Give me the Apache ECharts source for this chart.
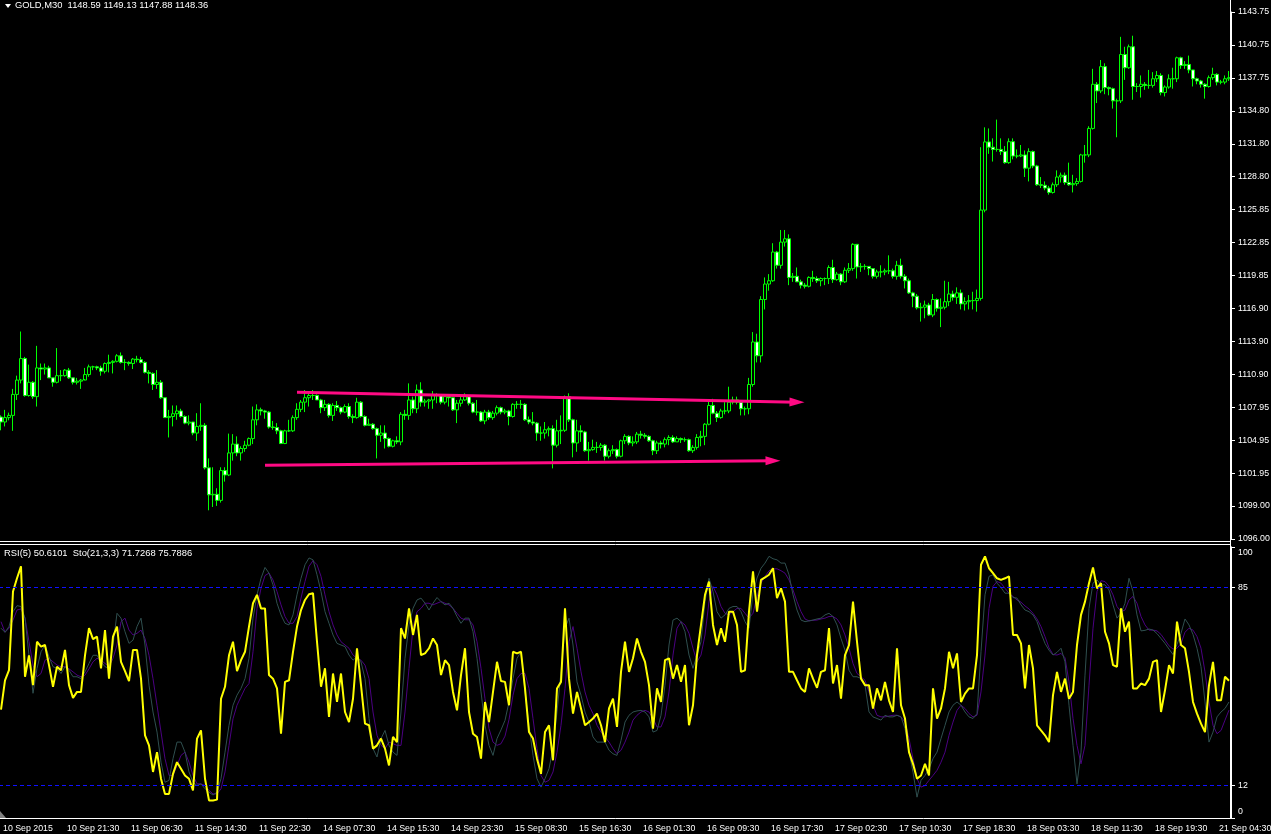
<!DOCTYPE html>
<html><head><meta charset="utf-8">
<script src="https://cdn.jsdelivr.net/npm/echarts@6/dist/echarts.min.js"></script>
<style>html,body{margin:0;padding:0;background:#000;}#c{width:1271px;height:834px;}</style>
</head><body><div id="c"></div>
<script>
const timeLabels = ['10 Sep 2015','10 Sep 21:30','11 Sep 06:30','11 Sep 14:30','11 Sep 22:30','14 Sep 07:30','14 Sep 15:30','14 Sep 23:30','15 Sep 08:30','15 Sep 16:30','16 Sep 01:30','16 Sep 09:30','16 Sep 17:30','17 Sep 02:30','17 Sep 10:30','17 Sep 18:30','18 Sep 03:30','18 Sep 11:30','18 Sep 19:30','21 Sep 04:30'];
const priceLabels = ['1096.00','1099.00','1101.95','1104.95','1107.95','1110.90','1113.90','1116.90','1119.85','1122.85','1125.85','1128.80','1131.80','1134.80','1137.75','1140.75','1143.75'];
const oscLevels = [0, 12, 85, 100];
const firstOpen = 1107.05;
const closes = [
1106.6,1107.0,1107.2,1109.1,1110.4,1112.35,1109.0,1110.2,1108.9,1111.5,
1111.4,1111.5,1110.6,1110.2,1110.8,1110.8,1111.3,1110.6,1110.2,1110.3,
1110.4,1110.9,1111.6,1111.6,1111.5,1111.2,1111.9,1112.0,1112.1,1112.6,
1112.0,1112.0,1111.9,1112.3,1112.25,1112.0,1111.1,1111.0,1110.0,1110.2,
1108.8,1107.0,1107.1,1107.35,1107.6,1107.1,1106.5,1106.6,1105.6,1106.2,
1106.3,1102.45,1100.0,1100.05,1099.5,1102.2,1101.8,1103.8,1104.6,1103.8,
1104.2,1104.5,1105.1,1106.8,1107.7,1107.6,1107.5,1106.15,1106.1,1105.8,
1104.65,1105.8,1105.8,1107.0,1107.75,1108.4,1108.8,1109.0,1109.0,1108.6,
1107.9,1108.2,1107.2,1108.1,1107.9,1107.5,1108.0,1107.1,1107.0,1108.4,
1107.1,1106.3,1106.4,1106.0,1105.4,1105.6,1105.1,1104.4,1104.9,1104.8,
1107.3,1107.2,1108.6,1107.8,1109.5,1108.4,1108.5,1108.6,1109.0,1109.0,
1108.4,1108.9,1108.8,1107.7,1108.3,1108.6,1108.9,1108.3,1107.5,1107.5,
1106.7,1107.5,1107.0,1107.4,1107.9,1107.5,1107.6,1107.1,1108.2,1108.2,
1108.2,1106.8,1106.6,1106.5,1105.6,1105.6,1105.9,1106.0,1104.5,1105.8,
1105.85,1108.9,1106.8,1104.7,1105.8,1105.7,1104.0,1104.1,1104.3,1104.3,
1104.5,1103.5,1104.0,1104.1,1103.5,1104.9,1105.3,1104.7,1104.8,1105.5,
1105.4,1105.3,1104.9,1104.0,1104.7,1104.6,1105.0,1105.2,1104.8,1105.1,
1105.0,1105.0,1104.0,1104.3,1105.2,1105.3,1106.4,1108.1,1107.4,1107.0,
1107.6,1107.6,1108.4,1108.6,1108.4,1107.8,1107.8,1110.0,1113.85,1112.6,
1117.7,1119.1,1119.4,1122.0,1120.8,1122.9,1123.2,1119.7,1119.8,1119.3,
1119.0,1118.9,1119.7,1119.6,1119.4,1119.6,1119.6,1120.6,1119.5,1120.0,
1119.3,1120.35,1120.5,1122.7,1120.65,1120.7,1120.7,1120.5,1119.8,1120.2,
1120.2,1120.3,1120.3,1119.8,1120.8,1119.8,1119.4,1118.3,1118.0,1116.95,
1117.0,1117.2,1116.3,1117.7,1116.9,1117.0,1117.5,1118.2,1117.9,1118.3,
1117.3,1117.5,1117.6,1117.6,1117.8,1125.8,1131.98,1131.5,1131.3,1131.3,
1131.1,1130.1,1132.0,1130.7,1130.7,1130.8,1129.6,1131.1,1129.8,1128.1,
1128.05,1127.8,1127.4,1128.1,1128.8,1128.96,1128.3,1128.1,1128.2,1128.4,
1130.8,1130.8,1133.2,1137.2,1136.6,1138.8,1136.9,1136.8,1135.7,1135.7,
1139.9,1138.7,1140.6,1137.0,1137.0,1137.2,1137.1,1137.1,1137.7,1138.0,
1136.45,1136.95,1137.7,1137.7,1139.6,1138.9,1139.0,1138.5,1137.7,1137.5,
1137.2,1137.0,1137.8,1138.1,1137.4,1137.4,1137.7,1137.8];
const lows = [
1105.85,1106.2,1106.75,1105.8,1108.6,1110.1,1108.9,1108.9,1108.7,1108.0,
1110.4,1110.9,1110.6,1109.8,1110.1,1110.3,1110.7,1110.5,1110.0,1110.0,
1109.6,1110.5,1110.7,1111.3,1111.3,1110.8,1111.0,1111.1,1111.0,1112.0,
1111.9,1111.3,1111.7,1111.4,1112.0,1111.9,1111.0,1110.1,1109.5,1109.6,
1108.7,1107.0,1105.2,1106.2,1106.8,1107.0,1106.4,1106.3,1105.4,1104.9,
1105.8,1102.3,1098.6,1098.9,1099.0,1099.3,1101.2,1101.7,1103.1,1103.5,
1103.1,1103.9,1104.4,1104.6,1106.3,1107.2,1106.9,1106.0,1105.9,1105.5,
1104.6,1104.6,1105.7,1105.7,1106.8,1107.5,1107.5,1108.0,1108.6,1108.6,
1107.4,1107.6,1107.0,1106.7,1107.6,1107.3,1107.4,1106.9,1106.5,1106.9,
1107.0,1106.2,1106.3,1105.9,1103.3,1104.8,1104.2,1104.3,1104.3,1104.6,
1104.5,1106.8,1106.8,1107.4,1107.4,1108.0,1108.0,1107.8,1107.8,1108.3,
1108.2,1108.2,1108.0,1107.6,1106.5,1108.0,1108.5,1108.1,1107.4,1107.2,
1106.6,1106.4,1106.8,1106.8,1107.2,1107.3,1107.3,1106.3,1107.0,1107.8,
1107.8,1106.7,1106.4,1106.3,1104.9,1104.9,1105.1,1105.3,1102.4,1104.3,
1104.6,1105.7,1106.6,1103.4,1103.9,1104.8,1103.9,1103.1,1104.0,1103.8,
1104.0,1103.1,1103.3,1103.7,1103.3,1103.4,1104.6,1104.5,1104.4,1104.6,
1105.1,1105.1,1104.8,1103.6,1103.7,1104.2,1104.3,1104.5,1104.7,1104.8,
1104.7,1104.8,1103.9,1103.8,1104.1,1104.4,1104.5,1106.3,1107.3,1106.6,
1106.9,1107.3,1107.4,1108.2,1108.2,1107.2,1107.2,1107.3,1109.8,1112.0,
1112.0,1116.8,1118.5,1119.3,1120.5,1120.5,1122.5,1119.0,1119.3,1119.3,
1118.7,1118.7,1118.8,1119.3,1119.2,1118.9,1119.0,1119.1,1119.2,1119.4,
1119.0,1119.2,1120.1,1120.3,1119.6,1120.2,1120.4,1119.9,1119.6,1119.6,
1119.7,1119.9,1120.0,1119.6,1119.5,1119.6,1118.7,1118.2,1117.0,1116.8,
1115.7,1116.0,1116.2,1116.1,1116.6,1115.2,1116.8,1117.1,1117.6,1117.3,
1116.8,1116.7,1116.8,1116.8,1116.6,1117.6,1125.6,1130.9,1130.2,1131.1,
1130.8,1130.0,1130.0,1130.4,1130.5,1130.6,1128.8,1128.4,1129.6,1128.0,
1127.8,1127.6,1127.2,1127.3,1127.9,1128.3,1128.1,1128.0,1127.4,1128.0,
1128.3,1130.1,1130.6,1133.1,1135.5,1136.4,1136.3,1136.2,1135.0,1132.4,
1135.5,1137.6,1138.6,1135.8,1136.5,1136.0,1136.7,1136.8,1136.9,1137.4,
1136.2,1136.1,1136.8,1136.8,1137.4,1138.6,1138.6,1138.2,1137.0,1137.2,
1136.9,1135.9,1136.9,1137.6,1137.1,1137.2,1137.2,1137.5];
const highs = [
1107.2,1107.7,1107.45,1109.6,1110.8,1114.8,1112.5,1111.8,1110.3,1113.5,
1111.9,1111.9,1111.7,1110.6,1113.3,1111.3,1111.4,1111.5,1110.6,1110.6,
1110.5,1111.5,1111.8,1111.7,1111.7,1111.7,1112.0,1112.7,1112.2,1112.75,
1112.9,1112.3,1112.1,1112.4,1112.6,1112.5,1112.1,1111.3,1111.1,1111.3,
1110.4,1108.8,1107.7,1108.1,1108.1,1107.8,1107.2,1107.2,1106.6,1107.4,
1108.3,1106.5,1103.3,1102.5,1100.6,1102.5,1102.5,1105.55,1105.5,1105.3,
1104.4,1104.9,1105.2,1108.0,1108.2,1107.9,1107.7,1107.6,1106.7,1106.5,
1105.9,1105.9,1106.8,1107.2,1108.3,1108.6,1109.5,1109.3,1109.5,1109.1,
1108.7,1108.6,1108.3,1108.3,1108.5,1108.0,1108.2,1108.3,1107.3,1108.8,
1108.5,1107.2,1106.9,1106.5,1106.1,1106.3,1106.3,1105.2,1105.0,1105.3,
1107.5,1107.7,1110.1,1108.9,1110.0,1110.2,1108.7,1108.7,1109.4,1109.2,
1109.1,1109.0,1109.0,1108.9,1108.6,1108.9,1109.2,1109.0,1108.4,1108.6,
1107.6,1107.7,1107.7,1107.6,1108.1,1108.0,1107.8,1107.7,1108.3,1108.5,
1108.6,1108.3,1107.1,1107.5,1106.6,1106.2,1106.6,1106.2,1106.3,1106.8,
1107.2,1109.0,1109.2,1106.9,1106.8,1106.3,1105.8,1104.8,1105.0,1104.8,
1104.7,1104.6,1104.2,1104.5,1104.2,1105.0,1105.5,1105.4,1105.3,1105.7,
1105.8,1105.6,1105.4,1105.0,1104.9,1104.9,1105.2,1105.4,1105.4,1105.3,
1105.2,1105.2,1105.1,1104.5,1105.5,1105.8,1106.5,1108.6,1108.7,1107.6,
1107.8,1108.4,1109.8,1108.9,1108.9,1108.5,1108.0,1110.6,1114.75,1114.6,
1118.0,1119.7,1120.0,1122.8,1122.1,1124.0,1124.0,1123.6,1120.1,1120.6,
1119.5,1119.2,1119.8,1120.3,1119.8,1119.7,1119.7,1120.8,1121.3,1120.2,
1120.1,1120.6,1121.0,1122.8,1122.6,1121.0,1120.9,1120.7,1120.5,1120.4,
1120.8,1120.5,1121.7,1120.5,1121.2,1121.4,1120.0,1119.6,1118.4,1118.2,
1117.4,1117.6,1117.4,1118.2,1117.8,1117.8,1119.4,1119.3,1118.5,1118.8,
1118.6,1117.9,1118.1,1118.4,1118.6,1131.5,1133.3,1133.2,1132.3,1134.0,
1132.3,1131.6,1132.3,1132.3,1131.3,1131.7,1131.2,1131.4,1131.2,1129.9,
1128.8,1128.4,1128.0,1128.3,1129.4,1129.2,1129.2,1130.1,1129.0,1128.7,
1130.9,1131.7,1133.4,1138.6,1137.4,1139.4,1139.1,1137.0,1136.9,1135.9,
1141.5,1140.6,1140.8,1141.6,1137.3,1138.0,1137.4,1138.5,1138.3,1138.4,
1138.2,1137.1,1138.1,1138.7,1139.7,1139.7,1139.3,1139.8,1138.5,1137.8,
1137.6,1137.3,1138.0,1138.7,1138.2,1137.6,1138.0,1138.4];
const rsi = [
40,50.8,54.5,83.5,88.4,92.8,52.1,60,49,65,
63.2,63.8,56.4,48.4,55.8,54.5,62,49,44.3,46.5,
46.5,60,70,66,66.9,55.2,69.3,51.4,66.9,70.6,
57.6,54.2,50.5,62,62,51.4,30.5,26.8,17,24.3,
14.5,8.9,8.9,16.3,20.6,18.2,15.7,14.5,10.2,29.3,
32.3,14.5,6.5,6.5,6.8,44,48.4,60,65,54.2,
58.2,61.3,70.6,79.2,82.3,77.3,77.3,52.7,51.4,47.8,
31.1,50.2,50.8,61.3,70.6,76.7,80.4,82.5,82.9,65,
48.4,55.2,37.3,53.3,42.8,53.3,39.1,35.4,44,62.6,
49,34.8,34.2,25.6,26.8,29.3,25.6,19.4,29.9,28,
70,66.2,77.3,67.5,74.9,60.1,60.7,62.6,66.2,63.8,
52.7,58.2,56.4,46.5,39.7,52.7,62.6,39.1,31.1,29.9,
21.9,42.8,35.4,46.5,57.6,50.5,50.2,41.6,61.3,60.7,
61.3,47.8,31.7,29.3,21.9,16.3,31.7,34.2,21.3,47.8,
50.2,77.3,51.4,38.5,46.5,40.4,34.2,35.4,36.7,38.5,
34.2,28,40.4,44,33.6,53.9,65,53.9,58.9,66.2,
61.3,57.6,49,33,47.8,42.8,58.2,58.9,51.4,56.4,
50.2,56.4,34.2,41.6,60.1,71.2,82.3,87.2,71.2,63.8,
70,65,76.1,76.1,71.2,53.9,54.5,76.1,91,76.1,
87.8,88.7,89.7,92.1,81.1,84.7,79.8,53.9,53.9,50.8,
47.8,46.5,55.2,51.4,48,53.9,54.5,70,49.6,56.4,
44,60.1,63.8,79.8,65,51.4,49,49,40.4,47.8,
43.4,50.2,43.4,39.1,62.6,41.6,36.7,24.3,20,14.5,
15.7,20,15.7,47.8,36.7,40.4,47.8,61.3,55.2,60.7,
42.8,45.9,47.8,47.8,60.1,93.4,96.5,92.1,90.3,88.4,
87.8,88.4,89.1,67.5,67.5,64.4,47.8,63.8,55.2,34.2,
32.3,30.5,28,45.3,53.9,46.5,51.4,44,46.5,63.8,
74.9,79.8,86.6,92.4,84.7,86.6,68.7,64.4,56.4,55.8,
77.3,68.7,72.4,47.8,47.8,49.6,49,51.4,57.6,58.2,
39.1,47.1,56.4,53.3,72.4,63.8,62.6,53.9,42.8,38.5,
34.8,31.7,49,57.6,43.4,43.4,52.1,50.6];
const stoMain = [
70,68.5,70.6,76.1,78.3,78,73.7,60,46,55.2,
61.3,63.8,59.5,55.8,55.2,53.3,55.8,54.5,52.1,52.1,
51.4,53.9,57,60,60,57.6,55.8,55.2,63.8,75.5,
73.7,68.7,64.4,65.6,70.6,73.7,63.8,49,39.1,31.7,
20.6,13.2,13.9,21.9,28,28,24.3,17,13.2,12,
12.6,10.8,9.5,8.5,9.5,14.5,24.3,34.2,41.6,45.3,
47.8,51.4,58.9,73.7,82.3,88.4,92.4,90.3,86,79.2,
74.9,71.8,71.2,74.9,82.3,88.4,93.4,95.9,95.2,89.7,
83.5,76.1,71.8,67.5,64.4,63.8,63.2,60.1,58.2,59.5,
57.6,51.4,36.7,25.6,22.5,29.3,32.3,26.8,24.3,23.1,
39.1,58.9,71.2,77.3,80.4,81.1,79.2,76.7,79.2,81.3,
79.8,78.6,79.2,77.3,74.3,71.8,73.7,73.7,68.7,58.9,
46.5,34.2,26.8,23.1,29.3,32.5,36,42.8,51.4,58.9,
61.3,46.5,34.2,23.1,14.5,11.4,14.5,18.2,25.6,39.1,
53.9,70,73.7,63.8,50.2,45.3,39.1,35.4,29.9,28,
28,28,25,23.7,23.1,28.6,35.4,37.9,39.1,39.5,
39.7,39.1,37.3,31.7,32.3,37.9,49,63.8,73,73.7,
72.4,68.7,60.1,55.2,60.1,65,79.8,88.4,83.5,76.1,
73.7,74.9,77.3,78,78,76.1,72.4,70,83,88.5,
92.1,94,96.5,95.6,95.2,94,94,89.7,82.3,76.7,
73,72.4,72.7,73,73.4,73.7,74.9,75.5,74.3,71.2,
66.2,61.9,54.5,52.1,52.1,51.4,49,39.1,37.3,36.7,
36.1,37.9,37.3,37.3,37.9,37.3,33,24.3,16.9,7.7,
13.9,15.7,18.2,21.9,24.3,29.3,34.2,39.1,41.6,42.8,
41.6,39.1,37.3,36.7,38.5,61.3,82.3,89.1,89.7,86.6,
85,82.9,82.9,81.3,81.1,78.6,76.7,76.1,74.9,72.4,
68.1,64.4,61.9,60.1,61.1,62.6,57.6,41.6,26.8,12.6,
24.3,52.7,77.3,86.6,87.8,86,86,84.1,78.6,73.7,
75.5,79.2,88.4,83.5,74.9,69,69.2,69.7,69.3,68,
66.2,64.4,62.3,60.3,64,68.1,73.4,71.2,67.7,62.6,
55.8,42.8,28,31.7,37.3,39.1,40.4,42.8];
const stoSignal = [
72.4,68.5,70,73,76.7,77.1,73.7,65,56.4,52.1,
53.3,58.2,58.9,57.6,56.4,55.8,55.8,55,53.9,52.7,
52.1,52.7,55,57.6,58.9,58.2,57,55.8,58.9,63.8,
72.4,73.7,69.3,67.5,68.1,69.3,66.2,60,51.4,41.6,
31.7,21.9,15.7,15.7,19.4,23.1,24.3,20.6,15.7,12.6,
12.6,12,10.2,8.9,8.9,10.8,17,26.8,36.6,41.6,
44.7,47.8,49.6,61.3,77.3,84.7,89.4,90.3,87.8,83.5,
78.6,74.3,71.8,71.8,74.3,81.1,87.2,92.8,94.9,93.4,
89.1,82.3,76.1,71.2,67.5,65,63.8,62.6,60.1,58.9,
58.2,56.4,51.4,39.1,30.5,26.8,25.6,28,27.4,26.8,
26.8,39.1,55.2,70,76.1,77.3,79.2,79.2,78.6,79.2,
79.8,79.2,78.6,77.3,75.5,73.7,73.1,73.1,71.2,65,
55.2,44,33,28,26.8,27.4,30.2,36.3,45.3,51.4,
53.3,53.3,47.8,36.7,25.6,15.7,13.2,13.9,17,24.3,
34.2,47.8,65,70.6,62.6,53.9,46.5,41.6,38.5,34.2,
31.7,29.9,28,25.6,23.7,25,28,31.7,36.1,37.9,
39.1,39.7,39.1,36.7,33.6,33.6,37.3,46.5,60.1,70,
72.4,71.2,68.1,62.6,57.6,60.1,67.5,79.8,85.4,82.3,
78,75.5,74.9,76.1,77.3,77.3,75.5,73.7,75.5,81.6,
86.6,89.1,91.2,91.9,91.9,91.2,90.3,87.8,84.1,79.8,
76.1,73.4,72.7,72.9,73,73.4,73.7,74.3,74.3,73.4,
71.2,67.5,62.6,57,53.3,52.1,50.8,46.5,41.6,37.9,
37.3,37.3,37.6,37.9,37.9,37.3,35.4,29.3,21.9,14.5,
11.4,12,13.9,15.7,17.6,20.6,24.3,30.5,35.4,39.7,
41.6,40.4,38.5,37.3,37.9,46.5,60.1,77.3,85.4,87.2,
86.6,84.7,82.9,81.7,80.4,79.6,78.2,77.1,75.5,73.4,
70.6,66.9,62.8,60.3,60.1,60.7,59.1,50.2,36.7,26.8,
20,26.8,49,70,83.5,87.5,87.2,85.4,82.3,78,
76.1,76.7,80.4,81.7,79.2,74.3,71.2,69.3,69.3,69,
67.7,65.6,63.5,62.3,62.6,64.4,68.5,70,69.3,66.9,
62.6,53.9,42.8,34.2,31.1,32.3,36.1,39.8];
// hand-drawn trend lines: [bar index, price]
const upperTrend = [[74, 1109.29], [199, 1108.40]];
const lowerTrend = [[66, 1102.68], [193, 1103.09]];
const titleText = 'GOLD,M30  1148.59 1149.13 1147.88 1148.36';
const oscText = 'RSI(5) 50.6101  Sto(21,3,3) 71.7268 75.7886';

const cats = closes.map((_, i) => String(i));
const ohlc = closes.map((c, i) => [i === 0 ? firstOpen : closes[i - 1], c, lows[i], highs[i]]);
const pMin = 1096, pMax = 1143.75, pInt = (pMax - pMin) / 16;
const FONT = 'Liberation Sans';
const fs = 9.4;   // title / indicator caption
const afs = 8.8;  // axis labels
const chart = echarts.init(document.getElementById('c'), null, {renderer: 'canvas'});
const trendData = [upperTrend, lowerTrend].map(t => [{coord: [String(t[0][0]), t[0][1]]}, {coord: [String(t[1][0]), t[1][1]]}]);
chart.setOption({
  animation: false,
  backgroundColor: '#000000',
  textStyle: {fontFamily: FONT},
  grid: [
    {left: -1, top: 12, width: 1232, height: 527, outerBoundsMode: 'none', containLabel: false},
    {left: -1, top: 546.82, width: 1232, height: 271.23, outerBoundsMode: 'none', containLabel: false}
  ],
  xAxis: [
    {type: 'category', gridIndex: 0, data: cats, show: false},
    {type: 'category', gridIndex: 1, data: cats,
     axisLine: {lineStyle: {color: '#ffffff', width: 1}},
     axisTick: {alignWithLabel: true, length: 4, interval: (i) => i % 16 === 0, lineStyle: {color: '#ffffff'}},
     axisLabel: {interval: (i) => i % 16 === 0, formatter: (v, i) => timeLabels[Math.round(i / 16)] || '',
       color: '#ffffff', fontSize: afs, fontFamily: FONT, align: 'left', margin: 6, padding: [0, 0, 0, 2],
       hideOverlap: false},
     splitLine: {show: false}}
  ],
  yAxis: [
    {type: 'value', gridIndex: 0, position: 'right', min: pMin, max: pMax, interval: pInt, scale: true,
     axisLine: {show: true, lineStyle: {color: '#ffffff'}},
     axisTick: {show: true, length: 4, lineStyle: {color: '#ffffff'}},
     axisLabel: {color: '#ffffff', fontSize: afs, fontFamily: FONT, margin: 7,
       formatter: (v) => priceLabels[Math.round((v - pMin) / pInt)] || ''},
     splitLine: {show: false}},
    {type: 'value', gridIndex: 1, position: 'right', min: 0, max: 100,
     axisLine: {show: true, lineStyle: {color: '#ffffff'}},
     axisTick: {show: true, length: 4, customValues: oscLevels, lineStyle: {color: '#ffffff'}},
     axisLabel: {color: '#ffffff', fontSize: afs, fontFamily: FONT, margin: 7, customValues: oscLevels,
       formatter: (v) => v === 100 ? '{t|100}' : (v === 0 ? '{b|0}' : String(v)),
       rich: {t: {padding: [11, 0, 0, 0], color: '#ffffff', fontSize: afs, fontFamily: FONT},
              b: {padding: [0, 0, 12, 0], color: '#ffffff', fontSize: afs, fontFamily: FONT}}},
     splitLine: {show: false}}
  ],
  series: [
    {type: 'candlestick', xAxisIndex: 0, yAxisIndex: 0, data: ohlc, barWidth: 3,
     itemStyle: {color: '#000000', color0: '#ffffff', borderColor: '#00ff00', borderColor0: '#00ff00', borderWidth: 1},
     markLine: {silent: true, symbol: ['none', 'triangle'], symbolSize: [9, 15], precision: 4,
       label: {show: false}, emphasis: {disabled: true},
       lineStyle: {color: '#ff0a84', width: 3, type: 'solid'},
       itemStyle: {color: '#ff0a84'},
       data: trendData}},
    {type: 'line', xAxisIndex: 1, yAxisIndex: 1, data: stoSignal, showSymbol: false, symbol: 'none',
     lineStyle: {color: '#4b0082', width: 1}, z: 2},
    {type: 'line', xAxisIndex: 1, yAxisIndex: 1, data: stoMain, showSymbol: false, symbol: 'none',
     lineStyle: {color: '#2f4f4f', width: 1}, z: 3},
    {type: 'line', xAxisIndex: 1, yAxisIndex: 1, data: rsi, showSymbol: false, symbol: 'none',
     lineStyle: {color: '#ffff00', width: 2}, z: 4,
     markLine: {silent: true, symbol: 'none', label: {show: false}, emphasis: {disabled: true},
       lineStyle: {color: '#1010ff', type: [4, 3], width: 1, opacity: 1},
       data: [{yAxis: oscLevels[2]}, {yAxis: oscLevels[1]}]}}
  ],
  graphic: [
    {type: 'line', shape: {x1: 1230.5, y1: 0, x2: 1230.5, y2: 818}, style: {stroke: '#ffffff', lineWidth: 1}, z: 10},
    {type: 'line', shape: {x1: 0, y1: 541.5, x2: 1231, y2: 541.5}, style: {stroke: '#ffffff', lineWidth: 1}, z: 10},
    {type: 'line', shape: {x1: 0, y1: 544.5, x2: 1231, y2: 544.5}, style: {stroke: '#ffffff', lineWidth: 1}, z: 10},
    {type: 'polygon', shape: {points: [[5, 4], [11, 4], [8, 8]]}, style: {fill: '#ffffff'}, z: 10},
    {type: 'text', left: 15, top: 0.5, style: {text: titleText, fill: '#ffffff', font: fs + 'px "' + FONT + '"'}, z: 10},
    {type: 'text', left: 4, top: 549, style: {text: oscText, fill: '#ffffff', font: fs + 'px "' + FONT + '"'}, z: 10},
    {type: 'polygon', shape: {points: [[0, 811], [0, 818], [6, 818]]}, style: {fill: '#808080'}, z: 10}
  ]
});
</script></body></html>
